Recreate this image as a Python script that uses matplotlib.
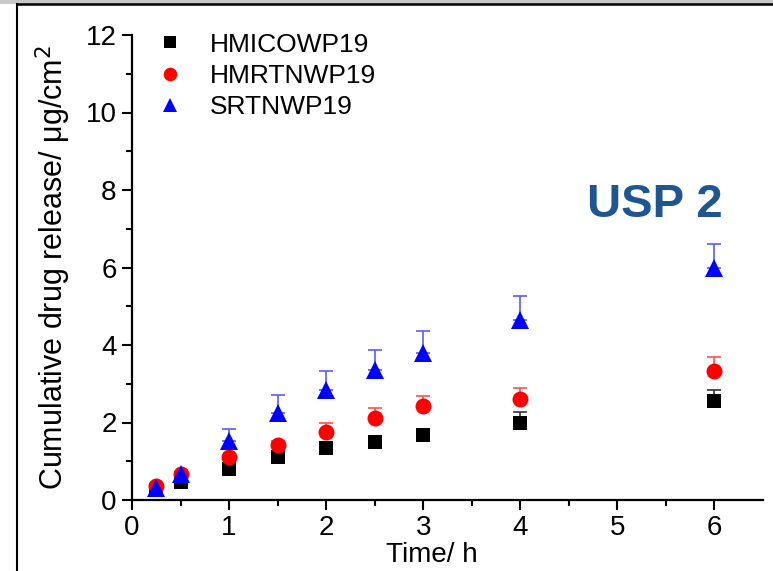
import numpy as np
import matplotlib
matplotlib.use('Agg')
from matplotlib import pyplot as plt
from matplotlib.lines import Line2D
from matplotlib.patches import Rectangle

plt.rcParams['font.family'] = ['Liberation Sans', 'DejaVu Sans']

# sampling times (h)
time_h = [0.25, 0.5, 1, 1.5, 2, 2.5, 3, 4, 6]

# cumulative release, ug/cm2
hmico = [0.27, 0.47, 0.80, 1.11, 1.35, 1.50, 1.69, 2.00, 2.55]
hmico_err = [0.02, 0.03, 0.04, 0.05, 0.05, 0.05, 0.06, 0.27, 0.28]
hmrtn = [0.35, 0.67, 1.10, 1.43, 1.75, 2.12, 2.43, 2.60, 3.34]
hmrtn_err = [0.03, 0.05, 0.07, 0.08, 0.23, 0.25, 0.26, 0.30, 0.34]
srtn = [0.30, 0.67, 1.52, 2.25, 2.84, 3.35, 3.80, 4.64, 5.99]
srtn_err = [0.03, 0.06, 0.30, 0.45, 0.50, 0.52, 0.57, 0.62, 0.62]

names = ['HMICOWP19', 'HMRTNWP19', 'SRTNWP19']

fig = plt.figure(figsize=(7.73, 5.71), dpi=100)
ax = fig.add_axes([132/773, 1-500/571, 631/773, 465/571])

series = [(hmico, hmico_err, 's', 'black', '#333333', 10.5),
          (hmrtn, hmrtn_err, 'o', 'red', '#ff5050', 11.5),
          (srtn, srtn_err, '^', 'blue', '#5a5aff', 12.5)]
handles = []
for (vals, err, mk, c, ec, ms), nm in zip(series, names):
    lo = np.zeros(len(vals))
    ax.errorbar(time_h, vals, yerr=[lo, err], fmt='none', ecolor=ec,
                elinewidth=1.2, capsize=5, capthick=1.2, zorder=2)
    ax.plot(time_h, vals, linestyle='none', marker=mk, color=c, ms=ms,
            markeredgewidth=0, zorder=3)
    handles.append(Line2D([], [], linestyle='none', marker=mk, color=c,
                          ms=ms*0.85, markeredgewidth=0, label=nm))

ax.set_xlim(0, 6.5)
ax.set_ylim(0, 12)
ax.set_xticks([0, 1, 2, 3, 4, 5, 6])
ax.set_xticks(np.arange(0.5, 6.5, 1), minor=True)
ax.set_yticks([0, 2, 4, 6, 8, 10, 12])
ax.set_yticks([1, 3, 5, 7, 9, 11], minor=True)
ax.tick_params(which='major', direction='out', length=7, width=1.5,
               labelsize=20, pad=4)
ax.tick_params(which='minor', direction='out', length=4, width=1.5)
for s in ['top', 'right']:
    ax.spines[s].set_visible(False)
for s in ['left', 'bottom']:
    ax.spines[s].set_linewidth(1.6)

ax.set_xlabel('Time/ h', fontsize=20)
ax.xaxis.set_label_coords(0.475, -0.09)
ax.set_ylabel('Cumulative drug release/ \u03bcg/cm$^2$', fontsize=22, labelpad=9)

ax.legend(handles=handles, loc='upper left', bbox_to_anchor=(0.019, 1.005),
          frameon=False, fontsize=19, handletextpad=0.5, labelspacing=0.28,
          borderpad=0, borderaxespad=0)

ax.text(0.829, 0.634, 'USP 2', transform=ax.transAxes, fontsize=34,
        fontweight='bold', color='#1f5591', ha='center', va='center')

# screenshot frame round the chart
fig.add_artist(Rectangle((0, 1-4/571), 1, 4/571, transform=fig.transFigure,
                         facecolor='#c8c8c8', edgecolor='none'))
fig.add_artist(Line2D([17/773, 1], [1-4/571, 1-4/571], transform=fig.transFigure,
                      color='black', lw=1.8))
fig.add_artist(Line2D([17/773, 17/773], [0, 1-4/571], transform=fig.transFigure,
                      color='black', lw=1.5))

fig.savefig('out.png', dpi=100)
